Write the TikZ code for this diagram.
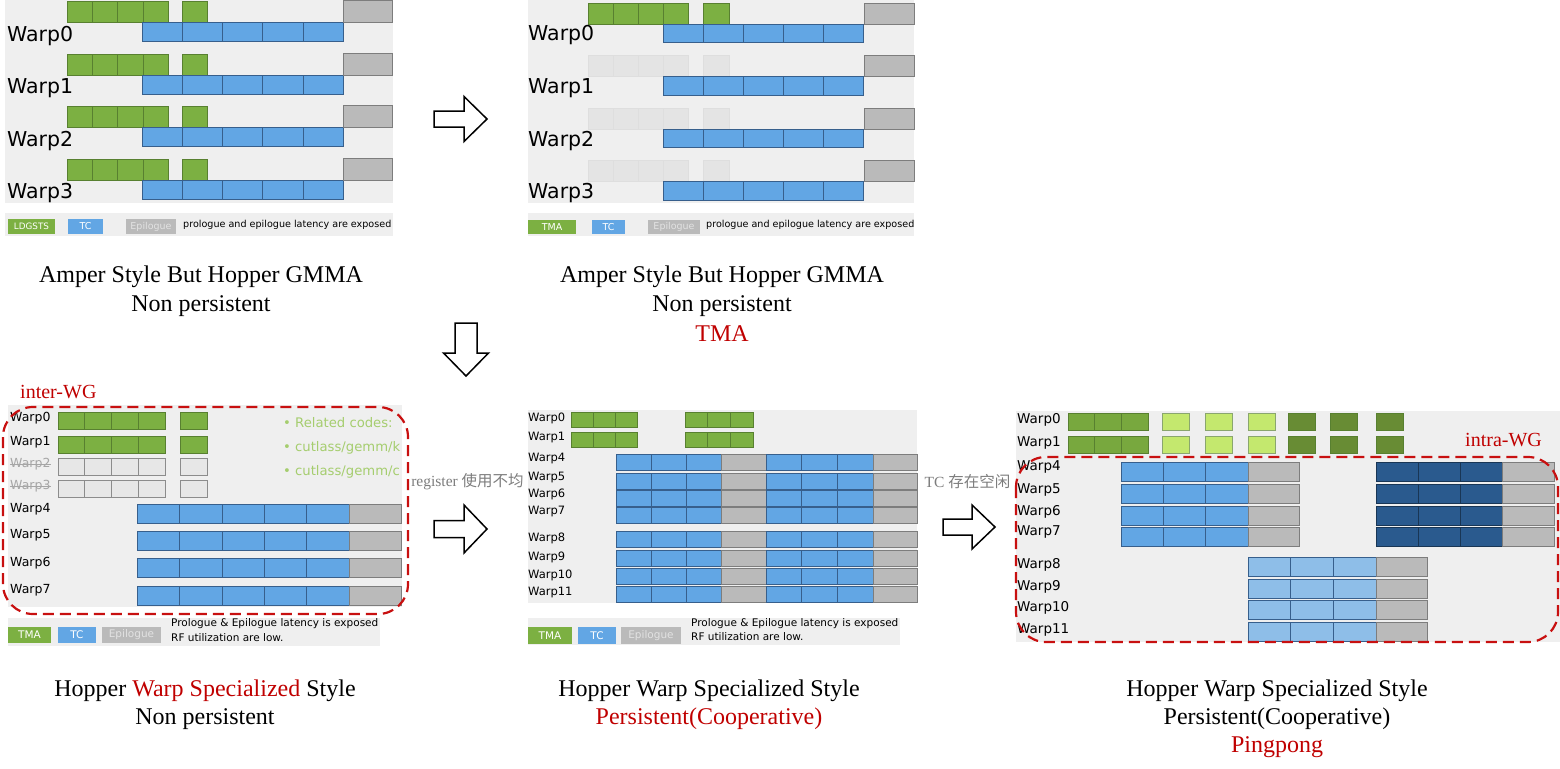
\documentclass[tikz,border=0pt]{standalone}
\usepackage{fontspec}
\setmainfont{DejaVu Sans}
\newfontfamily\serifrm{Liberation Serif}
\newfontfamily\cjk{Noto Sans CJK SC}
\usepackage{tikz}
\usetikzlibrary{positioning}

\definecolor{panelbg}{RGB}{239,239,239}
\definecolor{ldgreen}{RGB}{124,176,66}
\definecolor{ldgreenB}{RGB}{88,128,48}
\definecolor{tcblue}{RGB}{98,166,228}
\definecolor{tcblueB}{RGB}{55,95,140}
\definecolor{epigray}{RGB}{186,186,186}
\definecolor{epigrayB}{RGB}{125,125,125}
\definecolor{ghostA}{RGB}{228,228,228}
\definecolor{ghostAB}{RGB}{222,222,222}
\definecolor{ghostC}{RGB}{231,231,231}
\definecolor{ghostCB}{RGB}{140,140,140}
\definecolor{midgreen}{RGB}{120,168,62}
\definecolor{litegreen}{RGB}{196,232,110}
\definecolor{darkgreen}{RGB}{104,140,52}
\definecolor{darkblue}{RGB}{42,90,142}
\definecolor{liteblue}{RGB}{142,190,232}
\definecolor{wgred}{RGB}{200,16,16}
\definecolor{capred}{RGB}{192,0,0}
\definecolor{codegreen}{RGB}{165,205,110}
\definecolor{notegray}{RGB}{125,125,125}
\definecolor{epitext}{RGB}{226,226,226}

\newcommand{\bigwarp}{\fontsize{20.5}{22}\selectfont}
\newcommand{\cwarp}{\fontsize{12.5}{14}\selectfont}
\newcommand{\dwarp}{\fontsize{11.5}{13}\selectfont}
\newcommand{\ewarp}{\fontsize{13.5}{15}\selectfont}
\newcommand{\topnote}{\fontsize{9.6}{11}\selectfont}
\newcommand{\botnote}{\fontsize{10.5}{13.5}\selectfont}
\newcommand{\capfont}{\serifrm\fontsize{24}{30}\selectfont}

\tikzset{
  ld/.style={fill=ldgreen,draw=ldgreenB,line width=0.6pt},
  tc/.style={fill=tcblue,draw=tcblueB,line width=0.6pt},
  epi/.style={fill=epigray,draw=epigrayB,line width=0.6pt},
  lbl/.style={anchor=west,inner sep=0pt},
  legbox/.style={inner sep=0pt,text=white},
  captext/.style={anchor=base,inner sep=0pt,font=\capfont},
  wgbox/.style={draw=wgred,line width=2.2pt,dash pattern=on 11pt off 6pt,rounded corners=30pt},
  wgtext/.style={anchor=base west,inner sep=0pt,text=capred,font=\serifrm\fontsize{20}{22}\selectfont},
  hollow/.style={draw=black,fill=white,line width=1.5pt,line join=miter},
  why/.style={inner sep=0pt,text=notegray,font=\fontsize{15.5}{17}\selectfont}
}

\begin{document}
\begin{tikzpicture}[x=1pt,y=-1pt]
\useasboundingbox (0,0) rectangle (1560,768);
\fill[white] (0,0) rectangle (1560,768);

% ---- top left: Amper style, LDGSTS
\fill[panelbg] (5,0) rectangle (393,203);
\foreach \r in {0,...,3}{
  \pgfmathsetmacro\g{1.7+52.5*\r}
  \foreach \x in {67,92.3,117.6,142.9} \draw[ld] (\x,\g) rectangle ++(25.3,21);
  \draw[ld] (182,\g) rectangle ++(25,21);
  \foreach \x in {142,182.2,222.4,262.6,302.8} \draw[tc] (\x,\g+21) rectangle ++(40.2,19);
  \draw[epi] (343,\g-1) rectangle (392,\g+21);
  \node[lbl,anchor=base west,font=\bigwarp] (wA\r) at (7,\g+39.5) {Warp\r};
}
\fill[panelbg] (5,213) rectangle (393,236);
\node[legbox,fill=ldgreen,minimum width=47pt,minimum height=15pt,font=\fontsize{8.8}{10}\selectfont] (lgA1) at (31.5,226.5) {LDGSTS};
\node[legbox,fill=tcblue,minimum width=35pt,minimum height=15pt,font=\fontsize{9.5}{10}\selectfont] (lgA2) at (85.5,226.5) {TC};
\node[legbox,fill=epigray,text=epitext,minimum width=50pt,minimum height=15pt,font=\fontsize{9.5}{10}\selectfont] (lgA3) at (151,226.5) {Epilogue};
\node[lbl,font=\topnote] (ntA) at (183,225) {prologue and epilogue latency are exposed};

% ---- top middle: Amper style, TMA
\fill[panelbg] (528,0) rectangle (914,203);
\foreach \r in {0,...,3}{
  \pgfmathsetmacro\g{3+52.5*\r}
  \ifnum\r=0
    \foreach \x in {588,613,638,663} \draw[ld] (\x,\g) rectangle ++(25,21);
    \draw[ld] (703,\g) rectangle ++(26,21);
  \else
    \foreach \x in {588,613,638,663} \draw[fill=ghostA,draw=ghostAB] (\x,\g) rectangle ++(25,21);
    \draw[fill=ghostA,draw=ghostAB] (703,\g) rectangle ++(26,21);
  \fi
  \foreach \x in {663,703,743,783,823} \draw[tc] (\x,\g+21) rectangle ++(40,18.5);
  \draw[epi] (864,\g) rectangle (914,\g+21);
  \node[lbl,anchor=base west,font=\bigwarp] (wB\r) at (528,\g+38) {Warp\r};
}
\fill[panelbg] (528,213) rectangle (914,236);
\node[legbox,fill=ldgreen,minimum width=48pt,minimum height=14pt,font=\fontsize{9.5}{10}\selectfont] (lgB1) at (552,227) {TMA};
\node[legbox,fill=tcblue,minimum width=33pt,minimum height=14pt,font=\fontsize{9.5}{10}\selectfont] (lgB2) at (608.5,227) {TC};
\node[legbox,fill=epigray,text=epitext,minimum width=52pt,minimum height=14pt,font=\fontsize{9.5}{10}\selectfont] (lgB3) at (674,227) {Epilogue};
\node[lbl,font=\topnote] (ntB) at (706,225) {prologue and epilogue latency are exposed};

% captions, top row
\node[captext] (capA1) at (201,282) {Amper Style But Hopper GMMA};
\node[captext] (capA2) at (201,311.5) {Non persistent};
\node[captext] (capB1) at (722,282) {Amper Style But Hopper GMMA};
\node[captext] (capB2) at (722,311.5) {Non persistent};
\node[captext,text=capred] (capB3) at (722,341) {TMA};

% hollow arrows
\draw[hollow] (434,111) -- (464,111) -- (464,96.5) -- (487,119) -- (464,141.5) -- (464,127) -- (434,127) -- cycle;
\draw[hollow] (455,323) -- (477,323) -- (477,353) -- (488.5,353) -- (466,376) -- (443.5,353) -- (455,353) -- cycle;
\draw[hollow] (434,520.5) -- (464,520.5) -- (464,505) -- (487,529) -- (464,553) -- (464,537.5) -- (434,537.5) -- cycle;
\draw[hollow] (943,519) -- (972,519) -- (972,505) -- (995,527) -- (972,549) -- (972,535) -- (943,535) -- cycle;
\node[why] (whyC) at (467.5,482) {\serifrm register \cjk 使用不均};
\node[why] (whyD) at (967.5,482) {\serifrm TC \cjk 存在空闲};

% ---- bottom left: warp specialized, non persistent
\fill[panelbg] (8,405) rectangle (402,607);
\foreach \y in {412,436}{
  \foreach \x in {58,84.75,111.5,138.25} \draw[ld] (\x,\y) rectangle ++(26.75,17);
  \draw[ld] (180,\y) rectangle ++(27,17);
}
\foreach \y in {458,480}{
  \foreach \x in {58,84.75,111.5,138.25} \draw[fill=ghostC,draw=ghostCB,line width=0.6pt] (\x,\y) rectangle ++(26.75,17);
  \draw[fill=ghostC,draw=ghostCB,line width=0.6pt] (180,\y) rectangle ++(27,17);
}
\foreach \y in {504,531,558,586}{
  \foreach \x in {137,179.4,221.8,264.2,306.6} \draw[tc] (\x,\y) rectangle ++(42.4,19);
  \draw[epi] (349,\y) rectangle (401,\y+19);
}
\foreach \n/\y in {0/418,1/442,4/509,5/535,6/563,7/590}
  \node[lbl,font=\cwarp] (wC\n) at (10,\y) {Warp\n};
\node[lbl,font=\cwarp,text=black!35] (wC2) at (10,464) {Warp2};
\node[lbl,font=\cwarp,text=black!35] (wC3) at (10,486) {Warp3};
\draw[black!35,line width=1pt] (wC2.west) -- (wC2.east);
\draw[black!35,line width=1pt] (wC3.west) -- (wC3.east);
\begin{scope}
  \clip (8,405) rectangle (402,607);
  \node[lbl,text=codegreen,font=\fontsize{13.2}{15}\selectfont] (codeC1) at (283,423) {• Related codes:};
  \node[lbl,text=codegreen,font=\fontsize{13.2}{15}\selectfont] (codeC2) at (283,448) {• cutlass/gemm/k};
  \node[lbl,text=codegreen,font=\fontsize{13.2}{15}\selectfont] (codeC3) at (283,472) {• cutlass/gemm/c};
\end{scope}
\draw[wgbox] (3,407) rectangle (408,614);
\node[wgtext] (interWG) at (20,398) {inter-WG};
\fill[panelbg] (8,618) rectangle (380,646);
\node[legbox,fill=ldgreen,minimum width=43pt,minimum height=16pt,font=\fontsize{10.5}{11}\selectfont] (lgC1) at (29.5,635) {TMA};
\node[legbox,fill=tcblue,minimum width=38pt,minimum height=16pt,font=\fontsize{10.5}{11}\selectfont] (lgC2) at (77,635) {TC};
\node[legbox,fill=epigray,text=epitext,minimum width=59pt,minimum height=16pt,font=\fontsize{10.5}{11}\selectfont] (lgC3) at (131.5,635) {Epilogue};
\node[lbl,font=\botnote] (ntC1) at (171,624) {Prologue \& Epilogue latency is exposed};
\node[lbl,font=\botnote] (ntC2) at (171,638) {RF utilization are low.};

% ---- bottom middle: persistent cooperative
\fill[panelbg] (528,410) rectangle (917,603);
\foreach \y in {412,432}{
  \foreach \x in {571,593,615} \draw[ld] (\x,\y) rectangle ++(22,15);
  \foreach \x in {685,707.7,730.3} \draw[ld] (\x,\y) rectangle ++(22.7,15);
}
\foreach \y in {454,473,490,507,531,550,568,586}{
  \foreach \x in {616,651,686} \draw[tc] (\x,\y) rectangle ++(35,16);
  \draw[epi] (721,\y) rectangle (766,\y+16);
  \foreach \x in {766,801.7,837.3} \draw[tc] (\x,\y) rectangle ++(35.7,16);
  \draw[epi] (873,\y) rectangle (917,\y+16);
}
\foreach \n/\y in {0/418,1/437,4/458,5/477,6/494,7/511,8/538,9/557,10/575,11/592}
  \node[lbl,font=\dwarp] (wD\n) at (528,\y) {Warp\n};
\fill[panelbg] (528,618) rectangle (900,645);
\node[legbox,fill=ldgreen,minimum width=44pt,minimum height=17pt,font=\fontsize{10.5}{11}\selectfont] (lgD1) at (550,635.5) {TMA};
\node[legbox,fill=tcblue,minimum width=38pt,minimum height=17pt,font=\fontsize{10.5}{11}\selectfont] (lgD2) at (597,635.5) {TC};
\node[legbox,fill=epigray,text=epitext,minimum width=60pt,minimum height=17pt,font=\fontsize{10.5}{11}\selectfont] (lgD3) at (651,635.5) {Epilogue};
\node[lbl,font=\botnote] (ntD1) at (691,624) {Prologue \& Epilogue latency is exposed};
\node[lbl,font=\botnote] (ntD2) at (691,637) {RF utilization are low.};

% ---- bottom right: pingpong
\fill[panelbg] (1016,411) rectangle (1560,642);
\foreach \y in {413,436}{
  \foreach \x in {1068,1094.7,1121.3} \draw[fill=midgreen,draw=ldgreenB,line width=0.6pt] (\x,\y) rectangle ++(26.7,17.5);
  \foreach \x in {1162,1205,1248} \draw[fill=litegreen,draw=ldgreenB!70,line width=0.6pt] (\x,\y) rectangle ++(27,17.5);
  \foreach \x in {1288,1330,1376} \draw[fill=darkgreen,draw=ldgreenB,line width=0.6pt] (\x,\y) rectangle ++(27,17.5);
}
\foreach \y in {462,484,506,527}{
  \foreach \x in {1121,1163.3,1205.7} \draw[tc] (\x,\y) rectangle ++(42.3,19);
  \draw[epi] (1248,\y) rectangle (1299,\y+19);
  \foreach \x in {1376,1418,1460} \draw[fill=darkblue,draw=darkblue!60!black,line width=0.6pt] (\x,\y) rectangle ++(42,19);
  \draw[epi] (1502,\y) rectangle (1554,\y+19);
}
\foreach \y in {557,579,600,622}{
  \foreach \x in {1248,1290.7,1333.3} \draw[fill=liteblue,draw=tcblueB,line width=0.6pt] (\x,\y) rectangle ++(42.7,19);
  \draw[epi] (1376,\y) rectangle (1427,\y+19);
}
\foreach \n/\y in {0/420,1/443,4/467,5/490,6/512,7/532,8/565,9/587,10/608,11/630}
  \node[lbl,font=\ewarp] (wE\n) at (1017,\y) {Warp\n};
\draw[wgbox] (1016,457) rectangle (1558,642);
\node[wgtext] (intraWG) at (1465,446) {intra-WG};

% captions, bottom row
\node[captext] (capC1) at (205,696) {Hopper \textcolor{capred}{Warp Specialized} Style};
\node[captext] (capC2) at (205,724) {Non persistent};
\node[captext] (capD1) at (709,696) {Hopper Warp Specialized Style};
\node[captext,text=capred] (capD2) at (709,724) {Persistent(Cooperative)};
\node[captext] (capE1) at (1277,696) {Hopper Warp Specialized Style};
\node[captext] (capE2) at (1277,724) {Persistent(Cooperative)};
\node[captext,text=capred] (capE3) at (1277,752) {Pingpong};
\end{tikzpicture}
\end{document}
